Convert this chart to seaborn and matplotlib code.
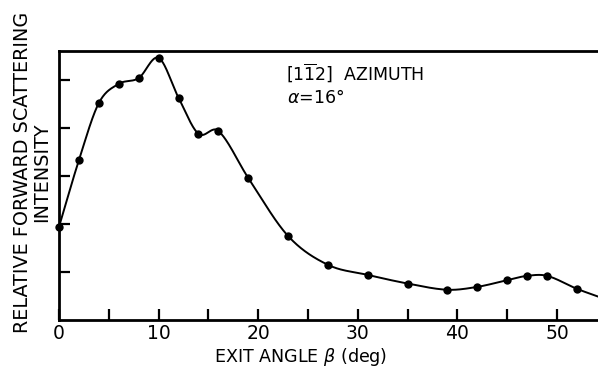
import numpy as np
import pandas as pd
import matplotlib
matplotlib.use("Agg")
import matplotlib.pyplot as plt
import seaborn as sns

# Data
angle = [0, 2, 4, 6, 8, 10, 12, 14, 16, 19, 23, 27, 31, 35, 39, 42, 45, 47, 49, 52]
intensity = [1.94, 3.33, 4.52, 4.92, 5.04, 5.46, 4.63, 3.88, 3.94, 2.96, 1.75, 1.15,
             0.94, 0.76, 0.63, 0.69, 0.83, 0.92, 0.92, 0.65]
# curve continues past last measured point to the plot edge
tail_angle = [54.5]
tail_intensity = [0.46]

xticks_major = [0, 10, 20, 30, 40, 50]
xticks_minor = [5, 15, 25, 35, 45]
yticks = [1, 2, 3, 4, 5]

sns.set_style("ticks")
plt.rcParams["font.family"] = ["DejaVu Sans"]
plt.rcParams["mathtext.fontset"] = "dejavusans"
for k in ["text.color", "axes.labelcolor", "xtick.color", "ytick.color",
          "xtick.labelcolor", "ytick.labelcolor"]:
    plt.rcParams[k] = "black"


def hermite_smooth(xs, ys, n=40):
    xs = np.asarray(xs, float)
    ys = np.asarray(ys, float)
    m = np.zeros_like(ys)
    m[1:-1] = (ys[2:] - ys[:-2]) / (xs[2:] - xs[:-2])
    m[0] = (ys[1] - ys[0]) / (xs[1] - xs[0])
    m[-1] = (ys[-1] - ys[-2]) / (xs[-1] - xs[-2])
    ox, oy = [], []
    for i in range(len(xs) - 1):
        h = xs[i + 1] - xs[i]
        t = np.linspace(0, 1, n, endpoint=False)
        h00 = 2 * t**3 - 3 * t**2 + 1
        h10 = t**3 - 2 * t**2 + t
        h01 = -2 * t**3 + 3 * t**2
        h11 = t**3 - t**2
        ox.extend(xs[i] + t * h)
        oy.extend(h00 * ys[i] + h10 * h * m[i] + h01 * ys[i + 1] + h11 * h * m[i + 1])
    ox.append(xs[-1])
    oy.append(ys[-1])
    return np.array(ox), np.array(oy)


cx, cy = hermite_smooth(angle + tail_angle, intensity + tail_intensity)
curve = pd.DataFrame({"angle": cx, "intensity": cy})
pts = pd.DataFrame({"angle": angle, "intensity": intensity})

fig = plt.figure(figsize=(5.98, 3.69), dpi=100)
ax = fig.add_axes([59 / 598, 1 - 320 / 369, 1 - 59 / 598, (320 - 51) / 369])

sns.lineplot(data=curve, x="angle", y="intensity", ax=ax, color="black", lw=1.4,
             sort=False, clip_on=True)
sns.scatterplot(data=pts, x="angle", y="intensity", ax=ax, color="black", s=36,
                edgecolor="black", linewidth=0, zorder=5, clip_on=False)

ax.set_xlim(0, (598 - 59) / 9.96)
ax.set_ylim(0, (320 - 51) / 48.0)

ax.set_xticks(xticks_major)
ax.set_xticklabels([str(v) for v in xticks_major])
ax.set_xticks(xticks_minor, minor=True)
ax.set_yticks(yticks)
ax.set_yticklabels([])

ax.tick_params(axis="both", which="both", direction="in", length=8, width=1.6,
               color="black")
ax.tick_params(axis="x", which="major", labelsize=13.5, pad=3)

for side in ["left", "bottom", "top"]:
    ax.spines[side].set_linewidth(2)
    ax.spines[side].set_color("black")
ax.spines["right"].set_visible(False)

ax.set_xlabel(r"EXIT ANGLE $\beta$ (deg)", fontsize=12.6)
ax.xaxis.set_label_coords((301 - 59) / 539, -(346 - 320) / 269, transform=ax.transAxes)
ax.set_ylabel("RELATIVE FORWARD SCATTERING\nINTENSITY", fontsize=13.8,
              linespacing=1.0)
ax.yaxis.set_label_coords(-(59 - 51) / 539, (320 - 172) / 269, transform=ax.transAxes)

ax.text(286, 369 - 73, r"[1$\overline{\mathrm{1}}$2]  AZIMUTH", fontsize=12.5,
        transform=None, va="center", ha="left")
ax.text(287, 369 - 98, r"$\alpha$=16°", fontsize=12.5, transform=None,
        va="center", ha="left")

fig.savefig("out.png", dpi=100)
